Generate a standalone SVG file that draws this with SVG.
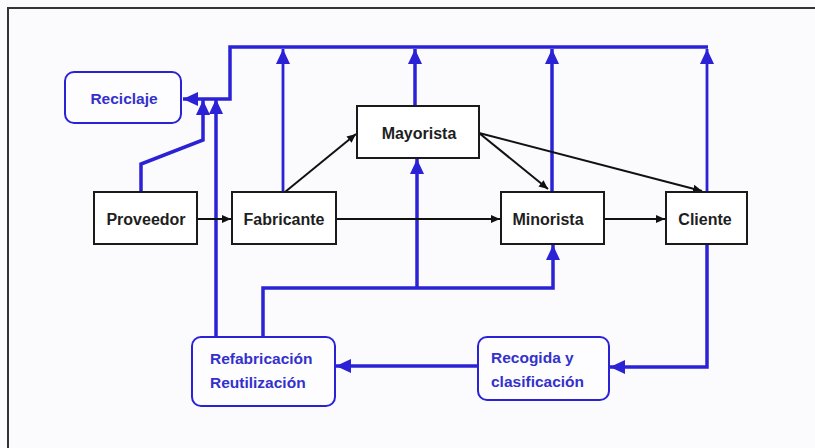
<svg xmlns="http://www.w3.org/2000/svg" width="815" height="448" viewBox="0 0 815 448">
  <style>
    .box { fill: #ffffff; stroke: #1a1a1a; stroke-width: 2; }
    .rbox { fill: #fdfdff; stroke: #2b22d6; stroke-width: 2; }
    .lbl { font-family: "Liberation Sans", Arial, sans-serif; font-weight: bold; font-size: 16px; fill: #1e1e1e; text-anchor: middle; }
    .blbl { font-family: "Liberation Sans", Arial, sans-serif; font-weight: bold; font-size: 15.5px; fill: #3430cc; }
    .flow { fill: none; stroke: #2b22d6; stroke-width: 3.5; stroke-linejoin: miter; }
    .flow-thin { fill: none; stroke: #2b22d6; stroke-width: 2.8; }
    .link { fill: none; stroke: #111111; stroke-width: 2; }
  </style>
  <defs>
    <marker id="blueHead" markerUnits="userSpaceOnUse" markerWidth="16" markerHeight="16" viewBox="0 0 16 16" refX="15" refY="8" orient="auto">
      <path d="M0,1 L15,8 L0,15 Z" fill="#2b22d6"/>
    </marker>
    <marker id="blackHead" markerUnits="userSpaceOnUse" markerWidth="10" markerHeight="10" viewBox="0 0 10 10" refX="9" refY="5" orient="auto">
      <path d="M0,1 L9,5 L0,9 Z" fill="#111111"/>
    </marker>
  </defs>

  <!-- page background and frame -->
  <rect x="0" y="0" width="815" height="448" fill="#fbfbfd"/>
  <path d="M8,448 V8 H815" fill="none" stroke="#333" stroke-width="2"/>

  <g id="connectors">
    <!-- return network into recycling -->
    <path class="flow" d="M708,47 H230 V99 H183" marker-end="url(#blueHead)"/>
    <path class="flow-thin" d="M283,192 V49" marker-end="url(#blueHead)"/>
    <path class="flow" d="M415,106 V49" marker-end="url(#blueHead)"/>
    <path class="flow" d="M552,192 V49" marker-end="url(#blueHead)"/>
    <path class="flow-thin" d="M707,192 V49" marker-end="url(#blueHead)"/>
    <path class="flow" d="M141,192 V164 L203,140 V100" marker-end="url(#blueHead)"/>
    <path class="flow" d="M216,337 V99" marker-end="url(#blueHead)"/>
    <!-- remanufacturing back into the chain -->
    <path class="flow" d="M263,337 V288 H553 V245" marker-end="url(#blueHead)"/>
    <path class="flow" d="M417,288 V159" marker-end="url(#blueHead)"/>
    <!-- collection loop -->
    <path class="flow" d="M707,244 V367 H610" marker-end="url(#blueHead)"/>
    <path class="flow" d="M478,366 H336" marker-end="url(#blueHead)"/>
    <!-- forward supply chain -->
    <path class="link" d="M197,219 H231" marker-end="url(#blackHead)"/>
    <path class="link" d="M336,219 H500" marker-end="url(#blackHead)"/>
    <path class="link" d="M604,219 H665" marker-end="url(#blackHead)"/>
    <path class="link" d="M285,192 L356,134" marker-end="url(#blackHead)"/>
    <path class="link" d="M479,133 L548,189" marker-end="url(#blackHead)"/>
    <path class="link" d="M479,133 L702,191" marker-end="url(#blackHead)"/>
  </g>

  <g id="reciclaje">
    <rect class="rbox" x="65" y="72" width="116" height="51" rx="9"/>
    <text class="blbl" x="124" y="104" text-anchor="middle">Reciclaje</text>
  </g>
  <g id="proveedor">
    <rect class="box" x="94" y="192" width="103" height="52"/>
    <text class="lbl" x="146" y="225">Proveedor</text>
  </g>
  <g id="fabricante">
    <rect class="box" x="232" y="192" width="104" height="52"/>
    <text class="lbl" x="284" y="225">Fabricante</text>
  </g>
  <g id="mayorista">
    <rect class="box" x="357" y="106" width="122" height="52"/>
    <text class="lbl" x="419" y="139">Mayorista</text>
  </g>
  <g id="minorista">
    <rect class="box" x="501" y="192" width="103" height="52"/>
    <text class="lbl" x="548" y="225">Minorista</text>
  </g>
  <g id="cliente">
    <rect class="box" x="666" y="192" width="81" height="52"/>
    <text class="lbl" x="705" y="225">Cliente</text>
  </g>
  <g id="refabricacion">
    <rect class="rbox" x="192" y="337" width="143" height="69" rx="9"/>
    <text class="blbl" x="210" y="364">Refabricación</text>
    <text class="blbl" x="210" y="388">Reutilización</text>
  </g>
  <g id="recogida">
    <rect class="rbox" x="478" y="337" width="131" height="63" rx="9"/>
    <text class="blbl" x="491" y="363">Recogida y</text>
    <text class="blbl" x="491" y="387">clasificación</text>
  </g>
</svg>
